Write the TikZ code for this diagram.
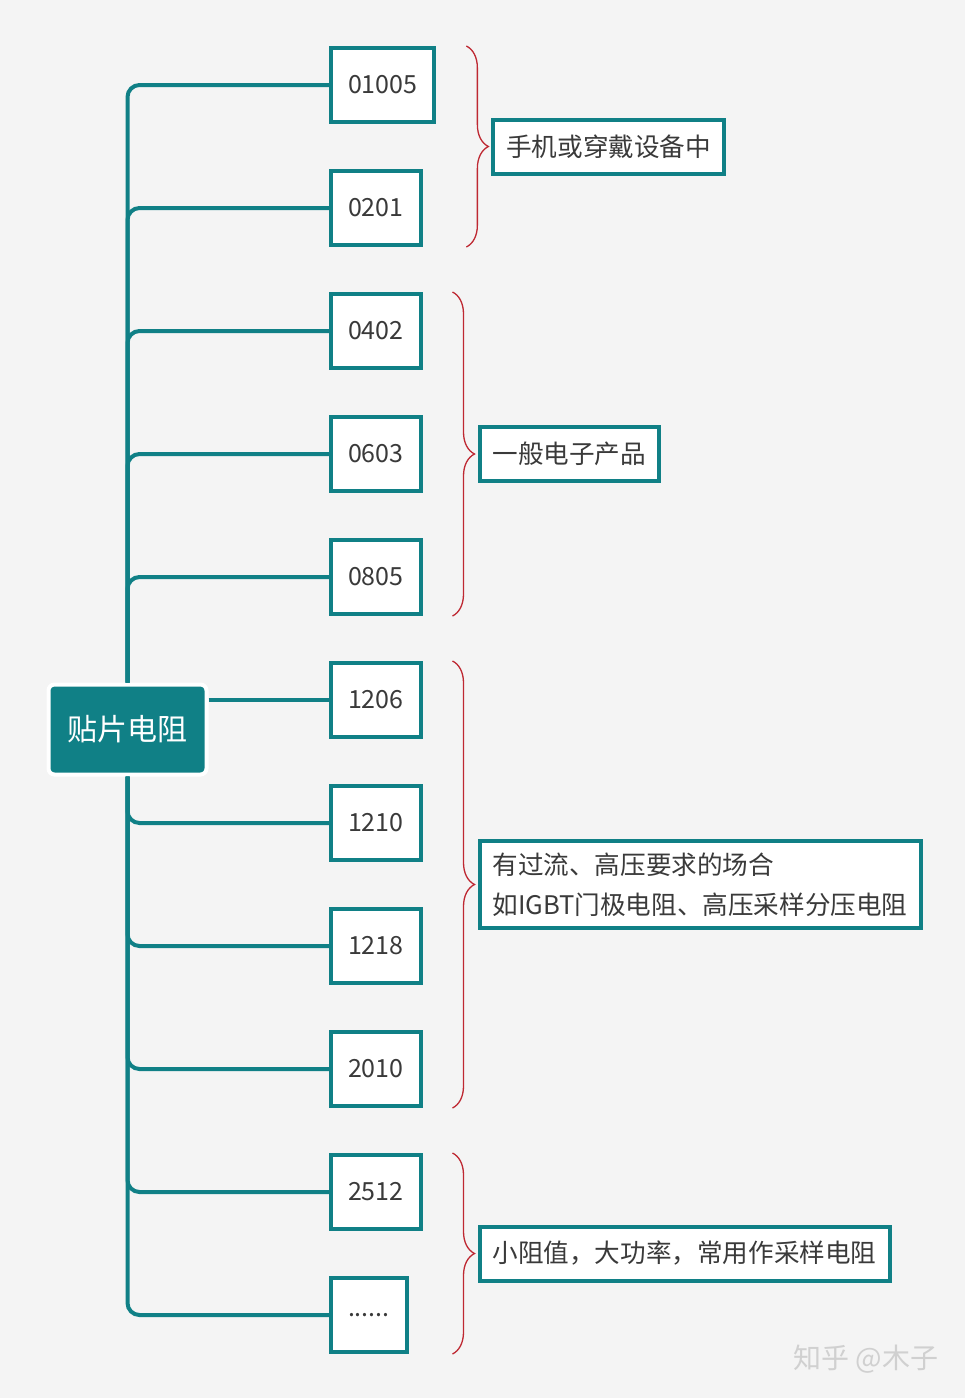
\documentclass[tikz,border=0pt]{standalone}
\usepackage{fontspec}
\setmainfont{Noto Sans CJK SC}
\usepackage{tikz}
\usetikzlibrary{
    positioning,
    calc,
    decorations.pathreplacing
}
\definecolor{mapteal}{RGB}{16,128,134}
\definecolor{mapbg}{RGB}{244,244,244}
\definecolor{mapred}{RGB}{190,40,50}
\definecolor{maptext}{RGB}{58,58,58}
\definecolor{mapmark}{RGB}{208,208,208}

\begin{document}
\begin{tikzpicture}[
        x=1pt, y=1pt,
        node distance=45pt and 25pt,
        root/.style={rectangle, rounded corners=6pt, fill=mapteal, draw=white,
                     line width=4pt, minimum width=158pt, minimum height=90pt,
                     text=white, font=\fontsize{30}{36}\selectfont},
        sizebox/.style={rectangle, draw=mapteal, fill=white, line width=4pt,
                        minimum height=74pt, inner xsep=17pt, text=maptext,
                        font=\fontsize{25}{30}\selectfont},
        usage/.style={rectangle, draw=mapteal, fill=white, line width=4pt,
                      minimum height=54pt, inner xsep=13pt, inner ysep=12pt,
                      align=left, text=maptext, font=\fontsize{25.6}{40}\selectfont},
        branch/.style={draw=mapteal, line width=4pt, rounded corners=12pt},
        bracket/.style={draw=mapred, line width=1.3pt, decorate,
                        decoration={brace, amplitude=22pt}},
    ]

    % Page
    \fill[mapbg] (0,0) rectangle (965,-1398);
    \useasboundingbox (0,0) rectangle (965,-1398);

    % Root
    \node[root] (root) at (127.5,-729.5) {贴片电阻};

    % Package sizes (top to bottom)
    \node[sizebox, anchor=west] (s01005) at (329,-85) {01005};
    \node[sizebox, below=of s01005.south west, anchor=north west] (s0201) {0201};
    \node[sizebox, below=of s0201.south west, anchor=north west]  (s0402) {0402};
    \node[sizebox, below=of s0402.south west, anchor=north west]  (s0603) {0603};
    \node[sizebox, below=of s0603.south west, anchor=north west]  (s0805) {0805};
    \node[sizebox, below=of s0805.south west, anchor=north west]  (s1206) {1206};
    \node[sizebox, below=of s1206.south west, anchor=north west]  (s1210) {1210};
    \node[sizebox, below=of s1210.south west, anchor=north west]  (s1218) {1218};
    \node[sizebox, below=of s1218.south west, anchor=north west]  (s2010) {2010};
    \node[sizebox, below=of s2010.south west, anchor=north west]  (s2512) {2512};
    \node[sizebox, below=of s2512.south west, anchor=north west]  (smore) {......};

    % Branches
    \draw[branch] (root.north) |- (s01005.west);
    \draw[branch] (root.north) |- (s0201.west);
    \draw[branch] (root.north) |- (s0402.west);
    \draw[branch] (root.north) |- (s0603.west);
    \draw[branch] (root.north) |- (s0805.west);
    \draw[branch] (root.east |- s1206.west) -- (s1206.west);
    \draw[branch] (root.south) |- (s1210.west);
    \draw[branch] (root.south) |- (s1218.west);
    \draw[branch] (root.south) |- (s2010.west);
    \draw[branch] (root.south) |- (s2512.west);
    \draw[branch] (root.south) |- (smore.west);

    % Brace groups
    \coordinate (g1top) at ([xshift=30pt]s01005.north east);
    \coordinate (g1bot) at (g1top |- s0201.south);
    \coordinate (g1mid) at ($(g1top)!0.5!(g1bot)$);
    \coordinate (g2top) at ([xshift=30pt]s0402.north east);
    \coordinate (g2bot) at (g2top |- s0805.south);
    \coordinate (g2mid) at ($(g2top)!0.5!(g2bot)$);
    \coordinate (g3top) at ([xshift=30pt]s1206.north east);
    \coordinate (g3bot) at (g3top |- s2010.south);
    \coordinate (g3mid) at ($(g3top)!0.5!(g3bot)$);
    \coordinate (g4top) at ([xshift=30pt]s2512.north east);
    \coordinate (g4bot) at (g4top |- smore.south);
    \coordinate (g4mid) at ($(g4top)!0.5!(g4bot)$);

    \draw[bracket] (g1top) -- (g1bot);
    \draw[bracket] (g2top) -- (g2bot);
    \draw[bracket] (g3top) -- (g3bot);
    \draw[bracket] (g4top) -- (g4bot);

    % Usage notes
    \node[usage, right=25pt of g1mid] (u1) {手机或穿戴设备中};
    \node[usage, right=25pt of g2mid] (u2) {一般电子产品};
    \node[usage, right=25pt of g3mid] (u3) {有过流、高压要求的场合\\如IGBT门极电阻、高压采样分压电阻};
    \node[usage, right=25pt of g4mid] (u4) {小阻值，大功率，常用作采样电阻};

    % Watermark
    \node[anchor=east, text=mapmark, font=\fontsize{28}{30}\selectfont]
        (mark) at (942,-1359) {知乎 @木子};

\end{tikzpicture}
\end{document}
